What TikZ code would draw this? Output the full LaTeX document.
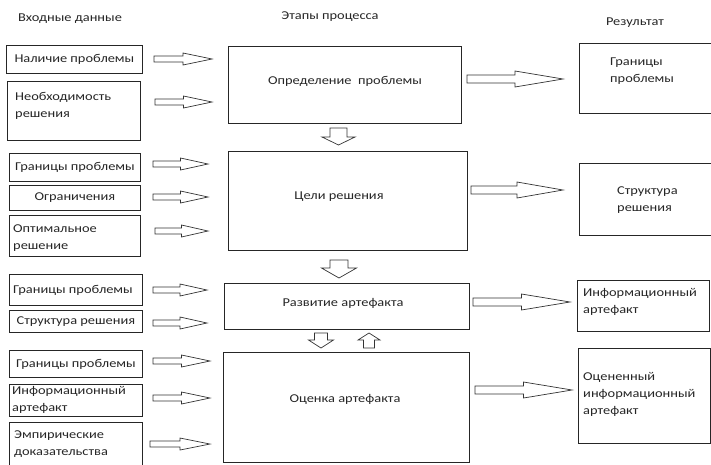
\documentclass[tikz,border=0pt]{standalone}
\usepackage{fontspec}
\setmainfont{Carlito}[FakeStretch=1.2]
\begin{document}
\begin{tikzpicture}[x=1pt,y=-1pt,
  box/.style={draw=black!85,line width=0.8pt,rectangle,inner sep=0pt,anchor=north west},
  lbl/.style={font=\fontsize{12}{17}\selectfont,text=black!85,inner sep=0pt,align=left},
  hdr/.style={font=\fontsize{12}{17}\selectfont,text=black!85,inner sep=0pt},
  blk/.style={draw=black!80,line width=0.7pt,fill=white,line join=miter}]
\useasboundingbox (0,0) rectangle (711,464);
% horizontal block arrow: x1, x2, y, shaft half, head half
\newcommand\hblk[5]{%
  \draw[blk] ({#1},{#3-#4}) -- ({(#1+#2)/2},{#3-#4}) -- ({(#1+#2)/2},{#3-#5}) -- ({#2},{#3}) -- ({(#1+#2)/2},{#3+#5}) -- ({(#1+#2)/2},{#3+#4}) -- ({#1},{#3+#4}) -- cycle;}
% vertical block arrow: x, ytail, ytip, yheadbase, shaft half, head half
\newcommand\vblk[6]{%
  \draw[blk] ({#1-#5},{#2}) -- ({#1-#5},{#4}) -- ({#1-#6},{#4}) -- ({#1},{#3}) -- ({#1+#6},{#4}) -- ({#1+#5},{#4}) -- ({#1+#5},{#2}) -- cycle;}

% headers
\node[hdr] (h1) at (70,19) {Входные данные};
\node[hdr] (h2) at (330,17) {Этапы процесса};
\node[hdr] (h3) at (635,23) {Результат};

% left boxes
\node[box,minimum width=136pt,minimum height=28pt] (L1) at (6,45) {};
\node[lbl] (tL1) at (L1.center) {Наличие проблемы};
\node[box,minimum width=133pt,minimum height=59pt] (L2) at (7,81) {};
\node[lbl,anchor=west] (tL2) at (15,105.5) {Необходимость\\решения};
\node[box,minimum width=131pt,minimum height=28pt] (L3) at (9,153) {};
\node[lbl] (tL3) at (L3.center) {Границы проблемы};
\node[box,minimum width=131pt,minimum height=25pt] (L4) at (9,185) {};
\node[lbl] (tL4) at (L4.center) {Ограничения};
\node[box,minimum width=131pt,minimum height=41pt] (L5) at (9,215) {};
\node[lbl,anchor=west] (tL5) at (13,238) {Оптимальное\\решение};
\node[box,minimum width=133pt,minimum height=31pt] (L6) at (9,274) {};
\node[lbl] (tL6) at (73,290) {Границы проблемы};
\node[box,minimum width=133pt,minimum height=22pt] (L7) at (9,310) {};
\node[lbl] (tL7) at (L7.center) {Структура решения};
\node[box,minimum width=133pt,minimum height=27pt] (L8) at (9,350) {};
\node[lbl] (tL8) at (L8.center) {Границы проблемы};
\node[box,minimum width=133pt,minimum height=32pt] (L9) at (9,384) {};
\node[lbl,anchor=west] (tL9) at (12,400) {Информационный\\артефакт};
\node[box,minimum width=133pt,minimum height=48pt] (L10) at (9,422) {};
\node[lbl,anchor=west] (tL10) at (14,444.5) {Эмпирические\\доказательства};

% main boxes
\node[box,minimum width=233pt,minimum height=77pt] (M1) at (228,46) {};
\node[lbl] (tM1) at (345,81) {Определение\ \ проблемы};
\node[box,minimum width=239pt,minimum height=99pt] (M2) at (228,151) {};
\node[lbl] (tM2) at (339,197) {Цели решения};
\node[box,minimum width=245pt,minimum height=46pt] (M3) at (224,283) {};
\node[lbl] (tM3) at (343,303) {Развитие артефакта};
\node[box,minimum width=246pt,minimum height=110pt] (M4) at (223,352) {};
\node[lbl] (tM4) at (345,399) {Оценка артефакта};

% right boxes
\node[box,minimum width=132pt,minimum height=70pt] (B1) at (579,43) {};
\node[lbl,anchor=west] (tB1) at (610,71.5) {Границы\\проблемы};
\node[box,minimum width=132pt,minimum height=72pt] (B2) at (579,163) {};
\node[lbl,anchor=west] (tB2) at (617,200) {Структура\\решения};
\node[box,minimum width=132pt,minimum height=51pt] (B3) at (577,280) {};
\node[lbl,anchor=west] (tB3) at (583,301.5) {Информационный\\артефакт};
\node[box,minimum width=132pt,minimum height=95pt] (B4) at (578,348) {};
\node[lbl,anchor=west] (tB4) at (583,394.5) {Оцененный\\информационный\\артефакт};

% left arrows
\hblk{154}{212}{59}{3}{6}
\hblk{155}{212}{102}{3}{6}
\hblk{153}{208}{164}{3}{6}
\hblk{153}{208}{197}{3}{6}
\hblk{155}{208}{231}{3}{6}
\hblk{153}{207}{290}{3}{6}
\hblk{153}{207}{323}{3}{6}
\hblk{153}{210}{361}{3}{6}
\hblk{153}{210}{398}{3}{6}
\hblk{150}{210}{444}{3}{6}

% right arrows
\hblk{467}{563}{79}{4}{8}
\hblk{471}{563}{190}{4}{8}
\hblk{473}{570}{302}{4}{8}
\hblk{475}{572}{390}{4}{8}

% vertical arrows
\vblk{338.5}{128}{145}{137}{8.5}{16.5}
\vblk{339}{260}{278}{268}{9}{17.5}
\vblk{321}{333}{348}{340}{6.5}{12.5}
\vblk{369}{348}{333}{340}{5.5}{11}
\end{tikzpicture}
\end{document}
